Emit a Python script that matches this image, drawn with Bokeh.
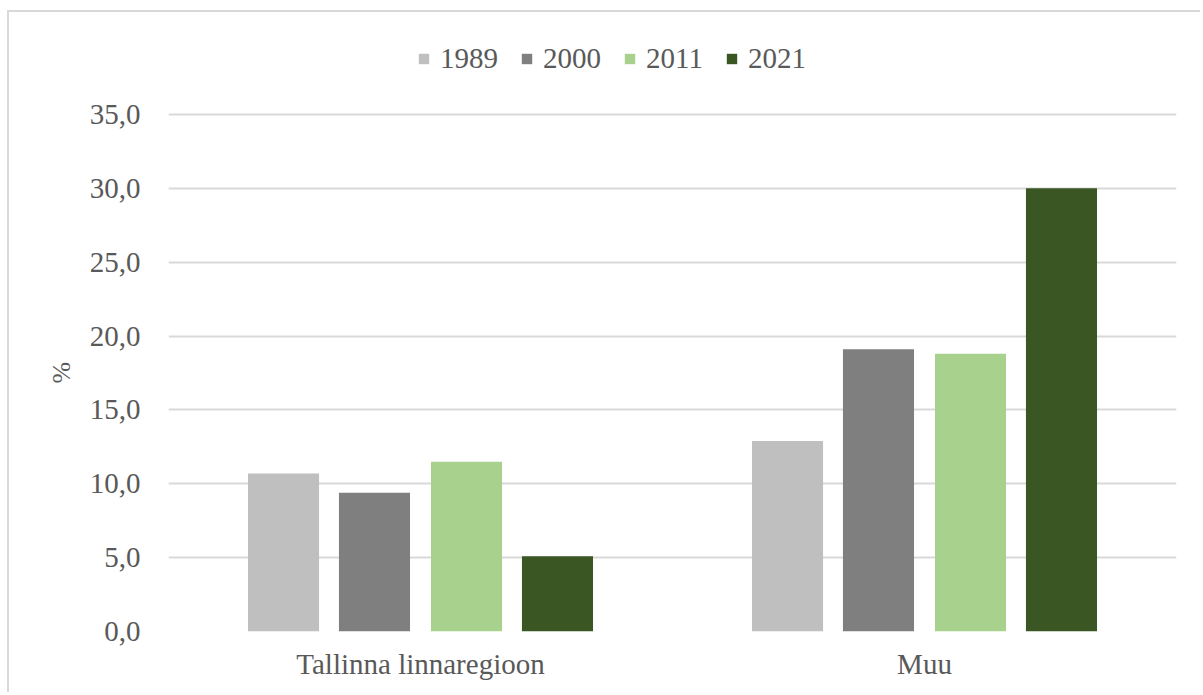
from bokeh.plotting import figure
from bokeh.models import FactorRange, Legend, LegendItem, FixedTicker, ColumnDataSource, Title, Range1d
from bokeh.transform import dodge
from bokeh.embed import file_html
from bokeh.resources import INLINE

categories = ["Tallinna linnaregioon", "Muu"]
years = ["1989", "2000", "2011", "2021"]
v1989 = [10.7, 12.9]
v2000 = [9.4, 19.1]
v2011 = [11.5, 18.8]
v2021 = [5.1, 30.0]
colors = ["#bfbfbf", "#7f7f7f", "#a9d18e", "#3a5723"]
tick_values = [0, 5, 10, 15, 20, 25, 30, 35]
tick_labels = ["0,0", "5,0", "10,0", "15,0", "20,0", "25,0", "30,0", "35,0"]

FONT = "Liberation Serif"
TXT = "#595959"

src = ColumnDataSource(dict(cat=categories, y1989=v1989, y2000=v2000, y2011=v2011, y2021=v2021))

# frame extends above the 35 gridline so that the legend (inside the frame) is not clipped
px_per_unit = 517 / 35.0
frame_top, frame_bottom = 30, 631
y_end = (frame_bottom - frame_top) / px_per_unit

p = figure(x_range=FactorRange(*categories, range_padding=0), y_range=Range1d(0, y_end),
           width=1200, height=692, output_backend="svg", toolbar_location=None,
           min_border_left=168, min_border_right=24, min_border_top=frame_top,
           min_border_bottom=692 - frame_bottom)
p.border_fill_color = None
p.outline_line_color = None
p.styles = {"background": "linear-gradient(#d9d9d9,#d9d9d9) 7px 10px / 2px 100% no-repeat, "
                          "linear-gradient(#d9d9d9,#d9d9d9) 7px 10px / 100% 2px no-repeat"}

offsets = [-0.2718, -0.0913, 0.0913, 0.2718]
cols = ["y1989", "y2000", "y2011", "y2021"]
items = []
for yr, col, off, c in zip(years, cols, offsets, colors):
    r = p.vbar(x=dodge("cat", off, range=p.x_range), top=col, width=0.141, source=src,
               fill_color=c, line_color=None)
    items.append(LegendItem(label=yr, renderers=[r]))

legend = Legend(items=items, orientation="horizontal", location=(249, 556),
                glyph_width=13, glyph_height=13, label_standoff=10, spacing=22,
                padding=0, margin=0, border_line_color=None, background_fill_alpha=0,
                label_text_font=FONT, label_text_font_size="29px", label_text_color=TXT)
p.add_layout(legend, "center")

p.xgrid.grid_line_color = None
p.ygrid.grid_line_color = "#d9d9d9"
p.ygrid.grid_line_width = 2
p.yaxis.ticker = FixedTicker(ticks=tick_values)
p.yaxis.major_label_overrides = {v: t for v, t in zip(tick_values, tick_labels)}

for ax in (p.xaxis, p.yaxis):
    ax.axis_line_color = None
    ax.major_tick_line_color = None
    ax.minor_tick_line_color = None
    ax.major_tick_out = 0
    ax.major_tick_in = 0
    ax.major_label_text_font = FONT
    ax.major_label_text_font_size = "29px"
    ax.major_label_text_color = TXT

p.yaxis.major_label_standoff = 28
p.xaxis.major_label_standoff = 16

ytitle = Title(text="%", align="left", offset=248, vertical_align="bottom", standoff=22,
               text_font=FONT, text_font_size="26px", text_font_style="normal", text_color=TXT)
p.add_layout(ytitle, "left")

open("out.html", "w").write(file_html(p, INLINE))
